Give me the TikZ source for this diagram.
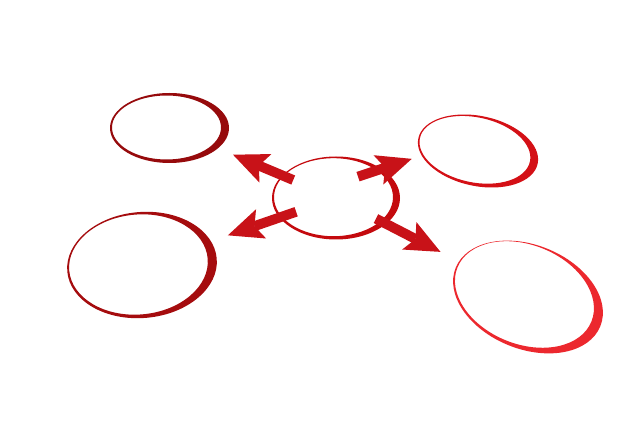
\documentclass[tikz,border=0pt]{standalone}
\usepackage{xcolor}
\usepackage{tikz}
\usetikzlibrary{arrows.meta,shapes.geometric}

\definecolor{ringtl}{RGB}{150,10,12}
\definecolor{ringbl}{RGB}{165,12,14}
\definecolor{ringhub}{RGB}{196,10,14}
\definecolor{ringtr}{RGB}{212,16,22}
\definecolor{ringbr}{RGB}{236,40,46}
\definecolor{arrowred}{RGB}{200,18,24}

\begin{document}
\begin{tikzpicture}[
  x=0.025cm,y=-0.025cm,
  ring/.style={ellipse,inner sep=0pt},
  band/.style={even odd rule},
  bigarrow/.style={line width=7pt,arrowred,-{Stealth[length=25pt,width=22pt,inset=5pt,line width=0pt]}}
]
\useasboundingbox[fill=white] (0,0) rectangle (640,426);

\node[ring,minimum width=2.98cm,minimum height=1.75cm] (tl) at (169.5,128) {};
\node[ring,minimum width=3.05cm,minimum height=1.75cm,rotate=-12] (tr) at (478,151) {};
\node[ring,minimum width=3.2cm,minimum height=2.08cm] (hub) at (336,198) {};
\node[ring,minimum width=3.75cm,minimum height=2.65cm,rotate=5] (bl) at (142,265) {};
\node[ring,minimum width=3.9cm,minimum height=2.6cm,rotate=-22] (br) at (528,297) {};

% ring bands, thicker on the right
\fill[band,ringtl,shift={(tl.center)}] (0,0) ellipse (59.5 and 35) (-3,-0.5) ellipse (54.5 and 32);
\fill[band,ringtr,shift={(tr.center)},rotate=-12] (0,0) ellipse (61 and 35) (-3.25,-0.5) ellipse (56.25 and 32.5);
\fill[band,ringhub,shift={(hub.center)}] (0,0) ellipse (64 and 41.5) (-2.5,-0.8) ellipse (59.5 and 39);
\fill[band,ringbl,shift={(bl.center)},rotate=5] (0,0) ellipse (75 and 53) (-3.5,-0.8) ellipse (69.5 and 50);
\fill[band,ringbr,shift={(br.center)},rotate=-22] (0,0) ellipse (78 and 52) (-4.25,-1) ellipse (72.25 and 49.5);

% arrows out of the hub
\draw[bigarrow,shorten <=33pt,shorten >=49pt] (hub.center) -- (tl.center);
\draw[bigarrow,shorten <=16.5pt,shorten >=49.6pt] ([yshift=10pt]hub.center) -- ([yshift=10pt]tr.center);
\draw[bigarrow,shorten <=30pt,shorten >=64.6pt] (hub.center) -- (bl.center);
\draw[bigarrow,shorten <=32pt,shorten >=70pt] (hub.center) -- (br.center);
\end{tikzpicture}
\end{document}
